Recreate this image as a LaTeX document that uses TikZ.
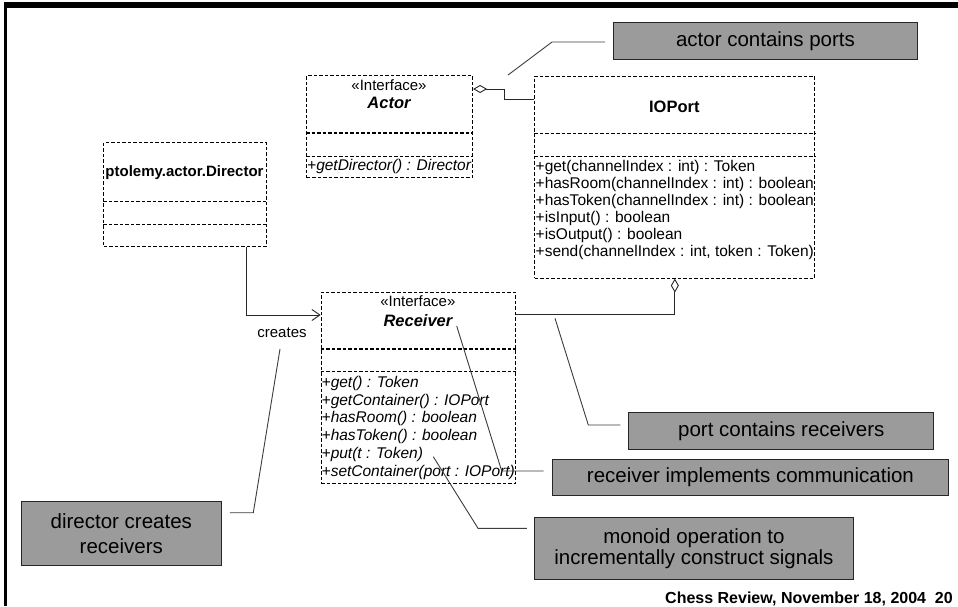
\documentclass[tikz,border=0pt]{standalone}
\usepackage{fontspec}
\setmainfont{Liberation Sans}
\usetikzlibrary{arrows.meta,calc}
\definecolor{calloutgray}{RGB}{155,155,155}
\definecolor{leadergray}{RGB}{60,60,60}
\definecolor{umlline}{RGB}{40,40,40}

\begin{document}
\begin{tikzpicture}[x=1pt,y=-1pt,
  umlbox/.style={draw=black, line width=1.1pt, dash pattern=on 3.5pt off 2pt,
    anchor=north west, inner sep=0pt},
  umldiv/.style={draw=black, line width=1.1pt, dash pattern=on 3.5pt off 2pt},
  umltext/.style={inner sep=0pt, font=\fontsize{15}{17}\selectfont},
  umlmeth/.style={inner sep=0pt, anchor=base west, font=\fontsize{15.5}{17}\selectfont},
  umltitle/.style={inner sep=0pt, anchor=base, font=\fontsize{16.5}{18}\selectfont\bfseries},
  callout/.style={draw=black!85, line width=0.9pt, fill=calloutgray, anchor=north west,
    inner sep=0pt, align=center, text=black},
  leader/.style={draw=leadergray, line width=0.9pt},
  agg/.style={draw=umlline, line width=0.9pt, {Diamond[open,length=14pt,width=8pt]}-},
  dep/.style={draw=umlline, line width=0.9pt, -{Straight Barb[length=8pt,width=11pt]}}
]
\useasboundingbox (0,0) rectangle (958,606);

% slide frame
\fill[black] (4,2) rectangle (958,8);
\fill[black] (4,2) rectangle (7,606);

% ---------- class boxes ----------
\node[umlbox, minimum width=166pt, minimum height=102pt] (actor) at (306,75) {};
\node[umlbox, minimum width=280pt, minimum height=202pt] (ioport) at (534.3,75.5) {};
\node[umlbox, minimum width=162.4pt, minimum height=104pt] (director) at (103.3,142) {};
\node[umlbox, minimum width=194.3pt, minimum height=191.6pt] (recv) at (320.7,291.7) {};

% compartment dividers
\draw[umldiv] ([yshift=-58pt]actor.north west) -- ([yshift=-58pt]actor.north east);
\draw[umldiv] ([yshift=-81.7pt]actor.north west) -- ([yshift=-81.7pt]actor.north east);
\draw[umldiv] ([yshift=-57.8pt]ioport.north west) -- ([yshift=-57.8pt]ioport.north east);
\draw[umldiv] ([yshift=-81.2pt]ioport.north west) -- ([yshift=-81.2pt]ioport.north east);
\draw[umldiv] ([yshift=-59.7pt]director.north west) -- ([yshift=-59.7pt]director.north east);
\draw[umldiv] ([yshift=-82.3pt]director.north west) -- ([yshift=-82.3pt]director.north east);
\draw[umldiv] ([yshift=-57.3pt]recv.north west) -- ([yshift=-57.3pt]recv.north east);
\draw[umldiv] ([yshift=-80pt]recv.north west) -- ([yshift=-80pt]recv.north east);

% Actor
\node[umltext, anchor=base] (actor-st) at (389,90.5) {«Interface»};
\node[umltitle, font=\fontsize{16.5}{18}\selectfont\bfseries\itshape] (actor-name) at (389,108.5) {Actor};
\node[umlmeth, font=\fontsize{15.5}{17}\selectfont\itshape] (actor-m1) at (307,170.5) {+getDirector() : Director};

% IOPort
\node[umltitle] (ioport-name) at (674.3,112.5) {IOPort};
\foreach \m [count=\i] in {
  {+get(channelIndex : int) : Token},
  {+hasRoom(channelIndex : int) : boolean},
  {+hasToken(channelIndex : int) : boolean},
  {+isInput() : boolean},
  {+isOutput() : boolean},
  {+send(channelIndex : int, token : Token)}}
  \node[umlmeth] (ioport-m\i) at (535.5,{171.8+17*(\i-1)}) {\m};

% Director
\node[umltext, anchor=base, font=\fontsize{15}{17}\selectfont\bfseries] (director-name) at (184.5,176.5) {ptolemy.actor.Director};

% Receiver
\node[umltext, anchor=base] (recv-st) at (417.9,306.5) {«Interface»};
\node[umltitle, font=\fontsize{16.5}{18}\selectfont\bfseries\itshape] (recv-name) at (417.9,326.3) {Receiver};
\foreach \m [count=\i] in {
  {+get() : Token},
  {+getContainer() : IOPort},
  {+hasRoom() : boolean},
  {+hasToken() : boolean},
  {+put(t : Token)},
  {+setContainer(port : IOPort)}}
  \node[umlmeth, font=\fontsize{15.5}{17}\selectfont\itshape] (recv-m\i) at (321.5,{387.2+17.8*(\i-1)}) {\m};

% ---------- relations ----------
\draw[agg] ([yshift=-14pt]actor.north east) -- ++(31,0) |- ([yshift=-24pt]ioport.north west);
\draw[agg] (ioport.south) |- ([yshift=-22.6pt]recv.north east);
\draw[dep] ([xshift=61.2pt]director.south) |- ([yshift=-23.3pt]recv.north west);
\node[umltext] (creates) at (282,333) {creates};

% ---------- callouts ----------
\node[callout, minimum width=304pt, minimum height=37.5pt, font=\fontsize{20.5}{22}\selectfont]
  (c-ports) at (613,21.7) {actor contains ports};
\node[callout, minimum width=305pt, minimum height=36.7pt, font=\fontsize{20.5}{22}\selectfont]
  (c-recv) at (628.3,412.3) {port contains receivers};
\node[callout, minimum width=396.6pt, minimum height=35.7pt, font=\fontsize{20.5}{22}\selectfont]
  (c-comm) at (551.7,459.3) {receiver implements communication};
\node[callout, minimum width=318.4pt, minimum height=62.6pt, font=\fontsize{20.5}{21}\selectfont]
  (c-monoid) at (534.3,516.7) {monoid operation to\\incrementally construct signals};
\node[callout, minimum width=200.3pt, minimum height=64.3pt, font=\fontsize{20.5}{25}\selectfont]
  (c-dir) at (20.7,500.7) {director creates\\receivers};

% leader lines
\coordinate (t-actor) at (508,75);
\coordinate (t-port) at (555,318.3);
\coordinate (t-comm) at (456.7,326);
\coordinate (t-mon) at (433.3,456.7);
\coordinate (t-dir) at (280,349);

\draw[leader] (t-actor) -- ++(44,-33) coordinate (k1) -- ($(k1 -| c-ports.west)+(-8,0)$);
\draw[leader] (t-port) -- ++(33.3,106.7) coordinate (k2) -- ($(k2 -| c-recv.west)+(-8,0)$);
\draw[leader] (t-comm) -- ++(45,145) coordinate (k3) -- ($(k3 -| c-comm.west)+(-8,0)$);
\draw[leader] (t-mon) -- ++(44.7,71.6) coordinate (k4) -- ($(k4 -| c-monoid.west)+(-7.5,0)$);
\draw[leader] (t-dir) -- ++(-26.7,163.7) coordinate (k5) -- ($(k5 -| c-dir.east)+(8,0)$);

% footer
\node[inner sep=0pt, anchor=base east, font=\fontsize{16}{18}\selectfont\bfseries]
  (footer) at (953,603) {Chess Review, November 18, 2004\ \ 20};
\end{tikzpicture}
\end{document}
